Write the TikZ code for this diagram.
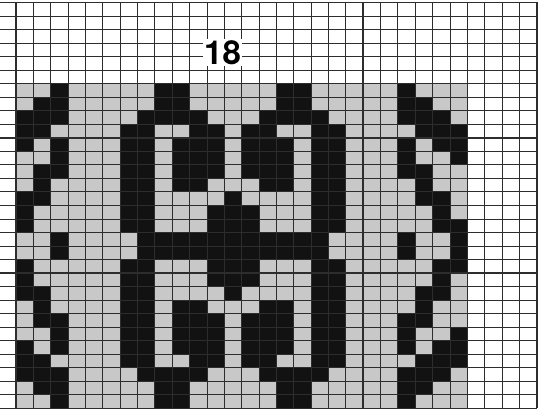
\documentclass[tikz,border=0pt]{standalone}
\usepackage{fontspec}
\setmainfont{TeX Gyre Heros}
\definecolor{cellgray}{RGB}{200,200,200}
\definecolor{cellblack}{RGB}{18,18,18}
\definecolor{linecol}{RGB}{45,45,45}
\tikzset{
  graycell/.style={fill=cellgray},
  blackcell/.style={fill=cellblack},
  gridline/.style={draw=linecol,line width=0.9pt},
  boldline/.style={draw=linecol,line width=1.6pt},
  chartlabel/.style={fill=white,inner sep=1pt,font=\bfseries\fontsize{33}{33}\selectfont}
}
\begin{document}
\begin{tikzpicture}[x=17.36pt,y=-13.53pt]
\useasboundingbox[fill=white] (0pt,0pt) rectangle (550pt,-411pt);
\begin{scope}[shift={(16pt,-2.5pt)}]
  % gray pattern area
  \fill[graycell] (0,6) rectangle (26,30);
  % black cells: column / rows (top half), mirrored about column 12 and row 17.5
  \foreach \c/\rs in {0/{8,9,10,14,15,16},
                      1/{7,8,9,12,13,14},
                      2/{6,7,8,10,11,12,17},
                      6/{9,10,11,12,13,14,15,16},
                      7/{8,9,10,11,12,13,14,15,16,17},
                      8/{6,7,8,17},
                      9/{6,7,8,10,11,12,13,17},
                      10/{8,9,10,11,12,13,17},
                      11/{9,10,11,12,15,16,17},
                      12/{14,15,16,17}} {
    \foreach \r in \rs {
      \fill[blackcell] (\c,\r) rectangle ++(1,1);
      \fill[blackcell] ({24-\c},\r) rectangle ++(1,1);
      \fill[blackcell] (\c,{35-\r}) rectangle ++(1,1);
      \fill[blackcell] ({24-\c},{35-\r}) rectangle ++(1,1);
    }
  }
  \foreach \r in {9,10,11,16,17} {
    \fill[blackcell] (25,\r) rectangle ++(1,1);
    \fill[blackcell] (25,{35-\r}) rectangle ++(1,1);
  }
  % grid
  \foreach \r in {0,...,30} \draw[gridline] (-0.93,\r) -- (30,\r);
  \foreach \c in {0,...,30} \draw[gridline] (\c,0) -- (\c,30);
  \foreach \r in {0,10,20,30} \draw[boldline] (-0.93,\r) -- (30,\r);
  \foreach \c in {0,10,20,30} \draw[boldline] (\c,0) -- (\c,30);
\end{scope}
\node[chartlabel] (lbl) at (222.5pt,-52.5pt) {18};
\end{tikzpicture}
\end{document}
